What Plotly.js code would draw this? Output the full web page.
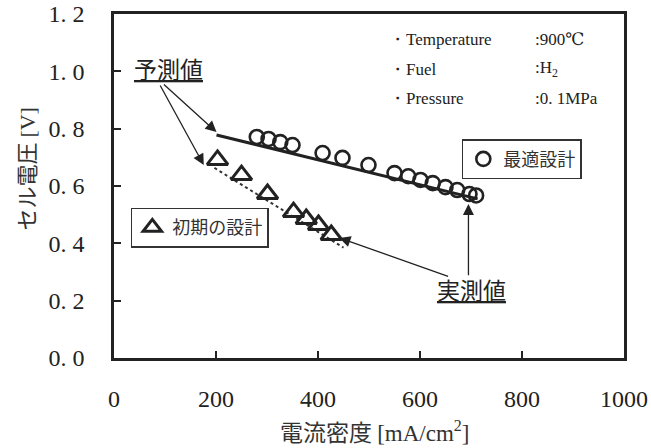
<!DOCTYPE html>
<html>
<head>
<meta charset="utf-8">
<script src="https://cdn.plot.ly/plotly-3.0.1.min.js"></script>
<style>html,body{margin:0;padding:0;background:#fff;}#chart{width:651px;height:448px;}</style>
</head>
<body>
<div id="chart"></div>
<script>
// Measured: optimized design (circles)
const optX = [280, 303, 326, 350, 409, 448, 499, 550, 577, 601, 625, 650, 673, 697, 710];
const optY = [0.771, 0.764, 0.753, 0.743, 0.715, 0.698, 0.673, 0.645, 0.634, 0.621, 0.610, 0.596, 0.586, 0.572, 0.567];
// Measured: initial design (triangles)
const initX = [203, 250, 301, 352, 377, 401, 426];
const initY = [0.691, 0.638, 0.572, 0.509, 0.485, 0.464, 0.429];
// Predicted lines
const predOptX = [201, 713];
const predOptY = [0.778, 0.555];
const predInitX = [197, 450];
const predInitY = [0.663, 0.385];
// Ticks
const xTicks = [0, 200, 400, 600, 800, 1000];
const xTickText = ["0", "200", "400", "600", "800", "1000"];
const yTicks = [0, 0.2, 0.4, 0.6, 0.8, 1.0, 1.2];
const yTickText = ["0. 0", "0. 2", "0. 4", "0. 6", "0. 8", "1. 0", "1. 2"];
// Condition texts
const condLabels = ["・Temperature", "・Fuel", "・Pressure"];
const condValues = [":900℃", ":H<sub>2</sub>", ":0. 1MPa"];

const ink = "#222";
const serif = "Liberation Serif, DejaVu Serif, serif";
const cjk = "Noto Sans CJK JP, sans-serif";

const traces = [
  {x: predOptX, y: predOptY, mode: "lines", line: {color: ink, width: 3}, showlegend: false, hoverinfo: "skip"},
  {x: predInitX, y: predInitY, mode: "lines", line: {color: "#333", width: 2, dash: "dot"}, showlegend: false, hoverinfo: "skip"},
  {x: optX, y: optY, mode: "markers", name: "最適設計", legend: "legend",
   marker: {symbol: "circle-open", size: 14, color: ink, line: {color: ink, width: 2.6}}},
  {x: initX, y: initY, mode: "markers", name: "初期の設計", legend: "legend2",
   marker: {symbol: "triangle-up-open", size: 18, color: ink, line: {color: ink, width: 3}}}
];

const annotations = [];
for (let i = 0; i < condLabels.length; i++) {
  const yy = [0.927, 0.840, 0.753][i];
  annotations.push({xref: "paper", yref: "paper", x: 0.535, y: yy, xanchor: "left", yanchor: "middle",
    text: condLabels[i], showarrow: false, font: {family: serif, size: 17, color: ink}});
  annotations.push({xref: "paper", yref: "paper", x: 0.822, y: yy, xanchor: "left", yanchor: "middle",
    text: condValues[i], showarrow: false, font: {family: serif, size: 17, color: ink}});
}
annotations.push({xref: "paper", yref: "paper", x: 0.106, y: 0.843, xanchor: "center", yanchor: "middle",
  text: "<u>予測値</u>", showarrow: false, font: {family: cjk, size: 23, color: ink}});
annotations.push({xref: "paper", yref: "paper", x: 0.700, y: 0.201, xanchor: "center", yanchor: "middle",
  text: "<u>実測値</u>", showarrow: false, font: {family: cjk, size: 23, color: ink}});

const arrows = [
  {x: 201, y: 0.788, ax: 95, ay: 0.959},
  {x: 176, y: 0.673, ax: 89, ay: 0.956},
  {x: 695, y: 0.537, ax: 695, ay: 0.283},
  {x: 442, y: 0.419, ax: 658, ay: 0.283}
];
arrows.forEach(a => annotations.push({x: a.x, y: a.y, ax: a.ax, ay: a.ay, xref: "x", yref: "y", axref: "x", ayref: "y",
  text: "", showarrow: true, arrowhead: 2, arrowsize: 1.7, arrowwidth: 1.3, arrowcolor: ink, standoff: 0, startstandoff: 0}));

// Axis titles
annotations.push({xref: "paper", yref: "paper", x: 0.512, y: -0.212, xanchor: "center", yanchor: "middle",
  text: '電流密度 <span style="font-family:Liberation Serif">[mA/cm<sup>2</sup>]</span>', showarrow: false,
  font: {family: cjk, size: 23, color: "#333"}});
annotations.push({xref: "paper", yref: "paper", x: -0.175, y: 0.55, xanchor: "center", yanchor: "middle", textangle: -90,
  text: 'セル電圧 <span style="font-family:Liberation Serif">[V]</span>', showarrow: false,
  font: {family: cjk, size: 22, color: "#333"}});

const layout = {
  width: 651, height: 448,
  margin: {l: 114, r: 27, t: 14, b: 90},
  paper_bgcolor: "#fff", plot_bgcolor: "#fff",
  showlegend: true,
  xaxis: {range: [0, 1000], tickvals: xTicks, ticktext: xTickText, ticks: "inside", ticklen: 7, tickwidth: 2, tickcolor: ink,
    showline: true, mirror: true, linewidth: 2.8, linecolor: ink, showgrid: false, zeroline: false,
    tickfont: {family: serif, size: 24, color: ink}, ticklabelstandoff: 17, fixedrange: true},
  yaxis: {range: [0, 1.2], tickvals: yTicks, ticktext: yTickText, ticks: "inside", ticklen: 7, tickwidth: 2, tickcolor: ink,
    showline: true, mirror: true, linewidth: 2.8, linecolor: ink, showgrid: false, zeroline: false,
    tickfont: {family: serif, size: 24, color: ink}, ticklabelstandoff: 22, fixedrange: true},
  legend: {x: 0.682, y: 0.636, xanchor: "left", yanchor: "top", bgcolor: "#fff", bordercolor: "#333", borderwidth: 1.5,
    font: {family: cjk, size: 18, color: "#333"}, itemsizing: "trace"},
  legend2: {x: 0.033, y: 0.437, xanchor: "left", yanchor: "top", bgcolor: "#fff", bordercolor: "#333", borderwidth: 1.5,
    font: {family: cjk, size: 18, color: "#333"}, itemsizing: "trace"},
  annotations: annotations
};

Plotly.newPlot("chart", traces, layout, {displayModeBar: false, staticPlot: true});
</script>
</body>
</html>
